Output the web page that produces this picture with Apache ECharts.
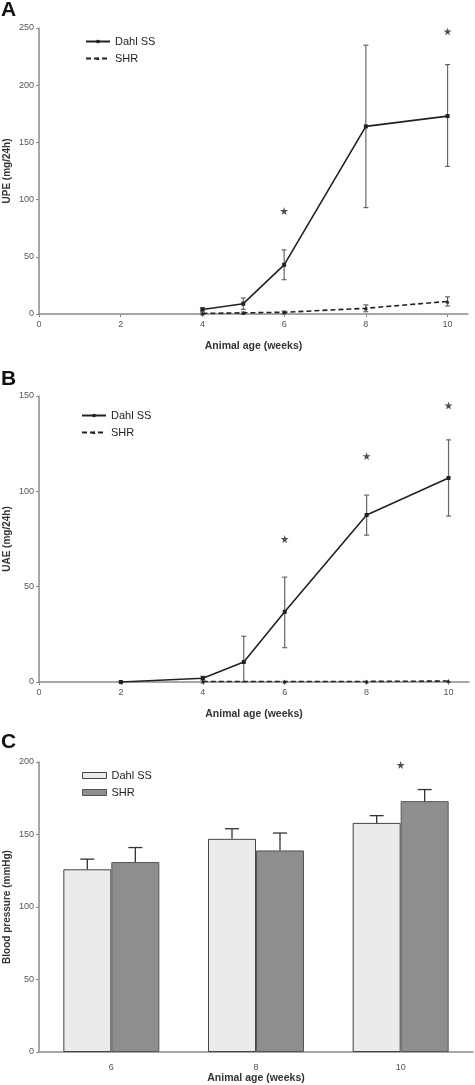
<!DOCTYPE html>
<html>
<head>
<meta charset="utf-8">
<script src="https://cdn.jsdelivr.net/npm/echarts@6/dist/echarts.min.js"></script>
<style>
html,body{margin:0;padding:0;background:#fff;}
#chart{width:475px;height:1085px;}
</style>
</head>
<body>
<div id="chart"></div>
<script>
// ---------- Data ----------
// Panel A: UPE (mg/24h)
const upeWeeks = [4, 5, 6, 8, 10];
const upeDahl = [4, 9, 43, 164, 173];
const upeDahlLow = [2.5, 4, 30, 93, 129];
const upeDahlHigh = [5.5, 14, 56, 235, 218];
const upeShr = [0.5, 1, 1.5, 5, 11];
const upeShrLow = [0, 0.3, 0.5, 2, 7];
const upeShrHigh = [1, 1.7, 2.5, 8, 15];
const upeStarWeeks = [6, 8, 10];
const upeStarValues = [90, 252, 247];

// Panel B: UAE (mg/24h)
const uaeDahlWeeks = [2, 4, 5, 6, 8, 10];
const uaeDahl = [0, 2, 10.5, 36.8, 87.6, 107];
const uaeDahlLow = [0, 1, 0, 18, 77, 87];
const uaeDahlHigh = [0, 3, 24, 55, 98, 127];
const uaeShrWeeks = [4, 6, 8, 10];
const uaeShr = [0.3, 0.3, 0.3, 0.5];
const uaeStarWeeks = [6, 8, 10];
const uaeStarValues = [75, 118.5, 145];

// Panel C: Blood pressure (mmHg)
const bpCategories = ['6', '8', '10'];
const bpDahl = [126, 147, 158];
const bpDahlErr = [133, 154, 163];
const bpShr = [131, 139, 173];
const bpShrErr = [141, 151, 181];
const bpStarCategory = ['10'];
const bpStarValue = [198];

const weekTicks = [0, 2, 4, 6, 8, 10];

// ---------- Styles ----------
const FONT = '"Liberation Sans", Arial, sans-serif';
const AXIS_COLOR = '#8a8a8a';
const LABEL_COLOR = '#555';
const LINE_COLOR = '#222';
const ERR_COLOR = '#666';
const STAR = 'path://M50,0 L61,35 L98,35 L68,57 L79,91 L50,70 L21,91 L32,57 L2,35 L39,35 Z';

function valueXAxis(gridIndex) {
  return {
    type: 'value', gridIndex, min: 0, max: 10.5,
    name: 'Animal age (weeks)', nameLocation: 'middle', nameGap: 27, nameMoveOverlap: false,
    nameTextStyle: {fontFamily: FONT, fontWeight: 'bold', fontSize: 10.5, color: '#333'},
    axisLine: {lineStyle: {color: AXIS_COLOR, width: 1.5}},
    axisTick: {show: true, length: 3, customValues: weekTicks, lineStyle: {color: AXIS_COLOR}},
    axisLabel: {customValues: weekTicks, fontFamily: FONT, fontSize: 9, color: LABEL_COLOR, margin: 6},
    splitLine: {show: false}
  };
}
function yAxis(gridIndex, name, max, interval) {
  return {
    type: 'value', gridIndex, min: 0, max, interval,
    name, nameLocation: 'middle', nameGap: 27, nameMoveOverlap: false,
    nameTextStyle: {fontFamily: FONT, fontWeight: 'bold', fontSize: 10, color: '#333'},
    axisLine: {show: true, lineStyle: {color: AXIS_COLOR, width: 1.5}},
    axisTick: {show: true, length: 3, lineStyle: {color: AXIS_COLOR}},
    axisLabel: {fontFamily: FONT, fontSize: 9, color: LABEL_COLOR, margin: 5},
    splitLine: {show: false}
  };
}

function errData(xs, lows, highs) {
  return xs.map((x, i) => [x, lows[i], highs[i]]);
}
function errorRender(capHalf) {
  return function (params, api) {
    const x = api.value(0);
    const lo = api.coord([x, api.value(1)]);
    const hi = api.coord([x, api.value(2)]);
    const style = {stroke: ERR_COLOR, lineWidth: 1.2, fill: null};
    return {
      type: 'group',
      children: [
        {type: 'line', shape: {x1: lo[0], y1: lo[1], x2: hi[0], y2: hi[1]}, style},
        {type: 'line', shape: {x1: hi[0] - capHalf, y1: hi[1], x2: hi[0] + capHalf, y2: hi[1]}, style},
        {type: 'line', shape: {x1: lo[0] - capHalf, y1: lo[1], x2: lo[0] + capHalf, y2: lo[1]}, style}
      ]
    };
  };
}
const BAR_W = 48;
function barErrRender(offsetSign) {
  return function (params, api) {
    const c = api.value(0);
    const top = api.coord([c, api.value(1)]);
    const hi = api.coord([c, api.value(2)]);
    const x = top[0] + offsetSign * BAR_W / 2;
    const style = {stroke: '#333', lineWidth: 1.3, fill: null};
    return {
      type: 'group',
      children: [
        {type: 'line', shape: {x1: x, y1: top[1], x2: x, y2: hi[1]}, style},
        {type: 'line', shape: {x1: x - 7, y1: hi[1], x2: x + 7, y2: hi[1]}, style}
      ]
    };
  };
}

const titleStyle = {fontFamily: FONT, fontWeight: 'bold', fontSize: 21, color: '#111'};
const legendText = {fontFamily: FONT, fontSize: 11, color: '#222'};

const option = {
  animation: false,
  backgroundColor: '#fff',
  title: [
    {text: 'A', left: 1, top: 0, padding: 0, textStyle: titleStyle},
    {text: 'B', left: 1, top: 369, padding: 0, textStyle: titleStyle},
    {text: 'C', left: 1, top: 732, padding: 0, textStyle: titleStyle}
  ],
  legend: [
    {orient: 'vertical', left: 85, top: 36, padding: 0, itemWidth: 24, itemHeight: 4, itemGap: 6, textStyle: legendText,
      data: ['Dahl SS', 'SHR']},
    {orient: 'vertical', left: 81, top: 410, padding: 0, itemWidth: 24, itemHeight: 4, itemGap: 6, textStyle: legendText,
      data: ['Dahl SS', 'SHR']},
    {orient: 'vertical', left: 82, top: 770, padding: 0, itemWidth: 24, itemHeight: 6, itemGap: 6, textStyle: legendText,
      data: [
        {name: 'Dahl SS', icon: 'rect', itemStyle: {color: '#ebebeb', borderColor: '#444', borderWidth: 1}},
        {name: 'SHR', icon: 'rect', itemStyle: {color: '#8e8e8e', borderColor: '#555', borderWidth: 1}}
      ]}
  ],
  grid: [
    {left: 39, top: 28, width: 429, height: 286, outerBoundsMode: 'none', containLabel: false},
    {left: 39, top: 396, width: 430, height: 286, outerBoundsMode: 'none', containLabel: false},
    {left: 39, top: 762, width: 434, height: 290, outerBoundsMode: 'none', containLabel: false}
  ],
  xAxis: [
    valueXAxis(0),
    valueXAxis(1),
    {
      type: 'category', gridIndex: 2, data: bpCategories,
      name: 'Animal age (weeks)', nameLocation: 'middle', nameGap: 21, nameMoveOverlap: false,
      nameTextStyle: {fontFamily: FONT, fontWeight: 'bold', fontSize: 10.5, color: '#333'},
      axisLine: {lineStyle: {color: AXIS_COLOR, width: 1.5}},
      axisTick: {show: false},
      axisLabel: {fontFamily: FONT, fontSize: 9, color: LABEL_COLOR, margin: 11}
    }
  ],
  yAxis: [
    yAxis(0, 'UPE (mg/24h)', 250, 50),
    yAxis(1, 'UAE (mg/24h)', 150, 50),
    yAxis(2, 'Blood pressure (mmHg)', 200, 50)
  ],
  series: [
    // Panel A
    {name: 'Dahl SS', type: 'line', xAxisIndex: 0, yAxisIndex: 0,
      data: upeWeeks.map((w, i) => [w, upeDahl[i]]),
      symbol: 'rect', symbolSize: 4, showSymbol: true,
      lineStyle: {color: LINE_COLOR, width: 1.6}, itemStyle: {color: LINE_COLOR}, z: 3},
    {name: 'SHR', type: 'line', xAxisIndex: 0, yAxisIndex: 0,
      data: upeWeeks.map((w, i) => [w, upeShr[i]]),
      symbol: 'triangle', symbolSize: 4,
      lineStyle: {color: LINE_COLOR, width: 1.6, type: [5, 3]}, itemStyle: {color: LINE_COLOR}, z: 3},
    {type: 'custom', xAxisIndex: 0, yAxisIndex: 0, renderItem: errorRender(2.5),
      data: errData(upeWeeks, upeDahlLow, upeDahlHigh), z: 2},
    {type: 'custom', xAxisIndex: 0, yAxisIndex: 0, renderItem: errorRender(2.5),
      data: errData(upeWeeks, upeShrLow, upeShrHigh), z: 2},
    {type: 'scatter', xAxisIndex: 0, yAxisIndex: 0, symbol: STAR, symbolSize: 8,
      itemStyle: {color: '#222'}, data: upeStarWeeks.map((w, i) => [w, upeStarValues[i]])},
    // Panel B
    {name: 'Dahl SS', type: 'line', xAxisIndex: 1, yAxisIndex: 1,
      data: uaeDahlWeeks.map((w, i) => [w, uaeDahl[i]]),
      symbol: 'rect', symbolSize: 4,
      lineStyle: {color: LINE_COLOR, width: 1.6}, itemStyle: {color: LINE_COLOR}, z: 3},
    {name: 'SHR', type: 'line', xAxisIndex: 1, yAxisIndex: 1,
      data: uaeShrWeeks.map((w, i) => [w, uaeShr[i]]),
      symbol: 'triangle', symbolSize: 4,
      lineStyle: {color: LINE_COLOR, width: 1.6, type: [5, 3]}, itemStyle: {color: LINE_COLOR}, z: 3},
    {type: 'custom', xAxisIndex: 1, yAxisIndex: 1, renderItem: errorRender(2.5),
      data: errData(uaeDahlWeeks, uaeDahlLow, uaeDahlHigh), z: 2},
    {type: 'scatter', xAxisIndex: 1, yAxisIndex: 1, symbol: STAR, symbolSize: 8,
      itemStyle: {color: '#222'}, data: uaeStarWeeks.map((w, i) => [w, uaeStarValues[i]])},
    // Panel C
    {name: 'Dahl SS', type: 'bar', xAxisIndex: 2, yAxisIndex: 2, data: bpDahl,
      barWidth: BAR_W, barGap: '0%',
      itemStyle: {color: '#ebebeb', borderColor: '#444', borderWidth: 1}},
    {name: 'SHR', type: 'bar', xAxisIndex: 2, yAxisIndex: 2, data: bpShr,
      barWidth: BAR_W, barGap: '0%',
      itemStyle: {color: '#8e8e8e', borderColor: '#555', borderWidth: 1}},
    {type: 'custom', xAxisIndex: 2, yAxisIndex: 2, renderItem: barErrRender(-1),
      data: bpDahl.map((v, i) => [i, v, bpDahlErr[i]]), z: 3},
    {type: 'custom', xAxisIndex: 2, yAxisIndex: 2, renderItem: barErrRender(1),
      data: bpShr.map((v, i) => [i, v, bpShrErr[i]]), z: 3},
    {type: 'scatter', xAxisIndex: 2, yAxisIndex: 2, symbol: STAR, symbolSize: 8,
      itemStyle: {color: '#222'}, data: bpStarCategory.map((c, i) => [c, bpStarValue[i]])}
  ]
};

const chart = echarts.init(document.getElementById('chart'), null, {renderer: 'canvas'});
chart.setOption(option);
</script>
</body>
</html>
